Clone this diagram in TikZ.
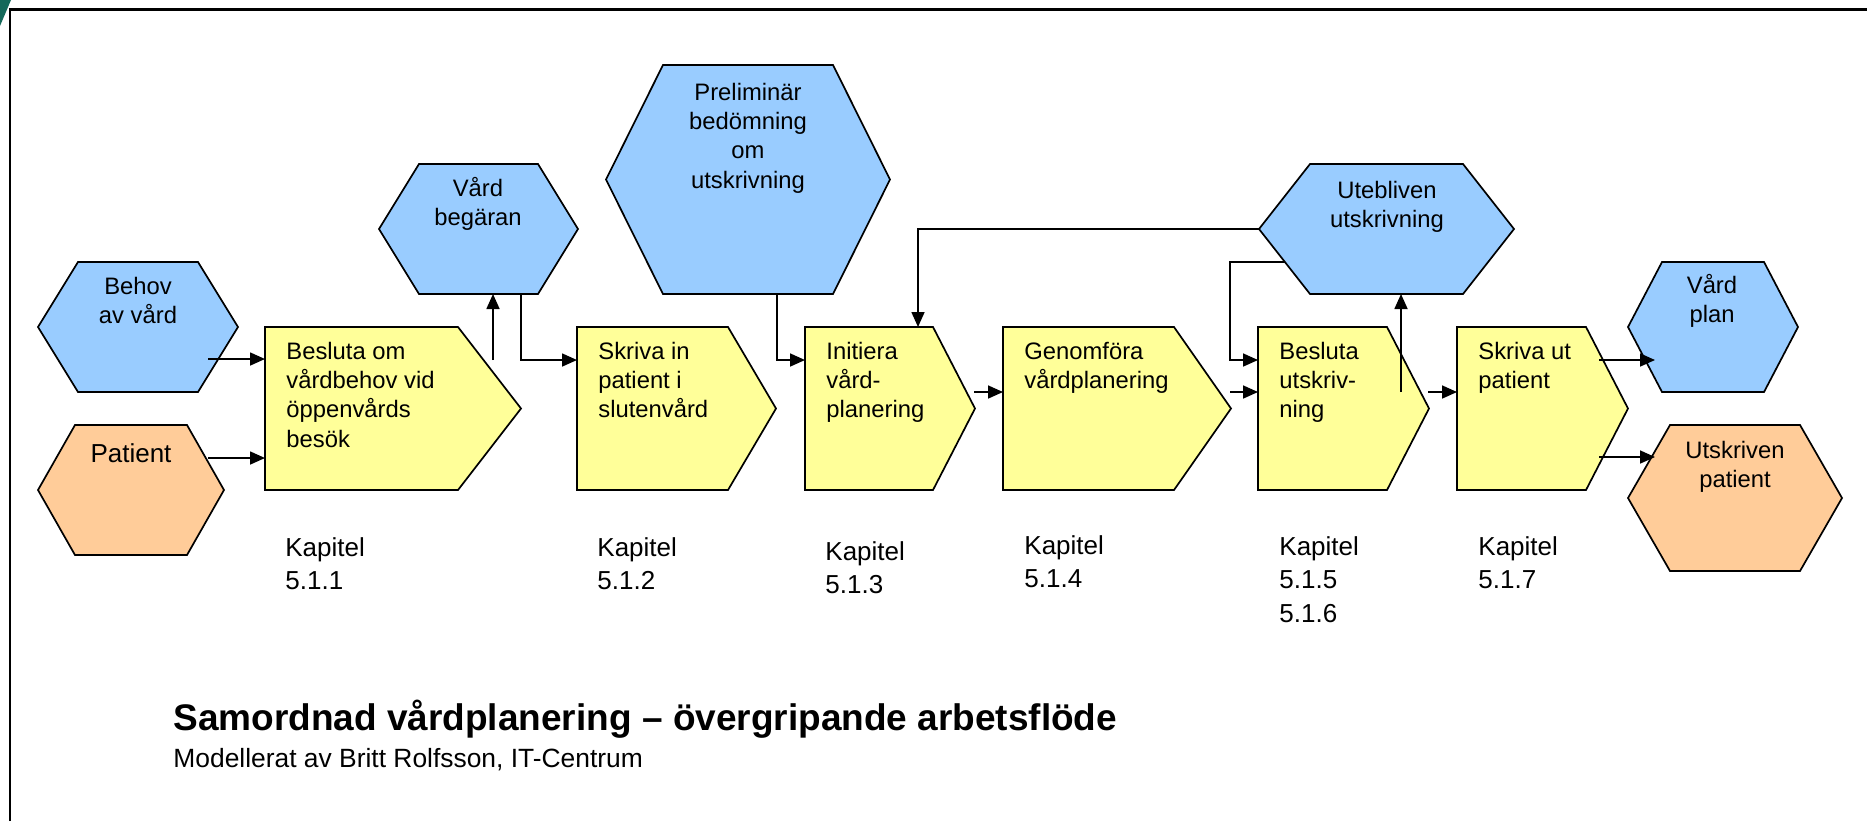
\documentclass[tikz,border=0pt]{standalone}
\usepackage{fontspec}
\setmainfont{Liberation Sans}
\usetikzlibrary{arrows.meta,calc}
\definecolor{hexblue}{HTML}{99CCFF}
\definecolor{procyellow}{HTML}{FFFF99}
\definecolor{hexorange}{HTML}{FFCC99}
\definecolor{cornergreen}{RGB}{20,105,90}
\newcommand\bfnt{\fontsize{11.9}{14.6}\selectfont}
\newcommand\kfnt{\fontsize{13}{16.7}\selectfont}
\newcommand\mystrut{\rule{0pt}{12pt}}
% hexagon: name, x1, y1, x2, y2, inset, colour
\newcommand\hexnd[7]{%
  \node[shapebox, minimum width={(#4-#2)*0.5pt}, minimum height={(#5-#3)*0.5pt}] (#1) at ({(#2+#4)/2},{(#3+#5)/2}) {};
  \draw[outline, fill=#7] (#1.west) -- ([xshift={#6*0.5pt}]#1.north west) -- ([xshift={-#6*0.5pt}]#1.north east) -- (#1.east) -- ([xshift={-#6*0.5pt}]#1.south east) -- ([xshift={#6*0.5pt}]#1.south west) -- cycle;}
% process box: name, x1, y1, x corner, x tip, y2
\newcommand\procnd[6]{%
  \node[shapebox, minimum width={(#5-#2)*0.5pt}, minimum height={(#6-#3)*0.5pt}] (#1) at ({(#2+#5)/2},{(#3+#6)/2}) {};
  \draw[outline, fill=procyellow] (#1.north west) -- ([xshift={(#4-#5)*0.5pt}]#1.north east) -- (#1.east) -- ([xshift={(#4-#5)*0.5pt}]#1.south east) -- (#1.south west) -- cycle;}
\begin{document}
\begin{tikzpicture}[x=0.5pt,y=-0.5pt,
  shapebox/.style={inner sep=0pt, outer sep=0pt, draw=none},
  outline/.style={draw=black, line width=0.85pt},
  arr/.style={draw=black, line width=0.85pt, -{Triangle[length=7.5pt,width=6.5pt]}},
  hextext/.style={inner sep=0pt, anchor=north, align=center, font=\bfnt},
  boxtext/.style={inner sep=0pt, anchor=north west, align=left, font=\bfnt},
  kaptext/.style={inner sep=0pt, anchor=north west, align=left, font=\kfnt}]
\useasboundingbox (0,0) rectangle (1867,821);
\fill[white] (0,0) rectangle (1867,821);
% corner and frame
\fill[cornergreen] (0,0) -- (11,0) -- (0,26) -- cycle;
\draw[line width=1.3pt] (10,821) -- (10,9.5) -- (1867,9.5);
% hexagons
\hexnd{behov}{38}{262}{238}{392}{40}{hexblue}
\hexnd{patient}{38}{425}{224}{555}{37}{hexorange}
\hexnd{begaran}{379}{164}{578}{294}{40}{hexblue}
\hexnd{prelim}{606}{65}{890}{294}{57}{hexblue}
\hexnd{uteb}{1259}{164}{1514}{294}{51}{hexblue}
\hexnd{vplan}{1628}{262}{1798}{392}{34}{hexblue}
\hexnd{utskr}{1628}{425}{1842}{571}{42}{hexorange}
% process boxes
\procnd{besluta}{265}{327}{458}{521}{490}
\procnd{skrivain}{577}{327}{728}{776}{490}
\procnd{initiera}{805}{327}{933}{975}{490}
\procnd{genom}{1003}{327}{1174}{1231}{490}
\procnd{beslutau}{1258}{327}{1387}{1429}{490}
\procnd{skrivaut}{1457}{327}{1586}{1628}{490}
% hexagon texts
\node[hextext] (t-behov) at (138,270) {\mystrut Behov\\av vård};
\node[inner sep=0pt, anchor=base, font=\fontsize{13}{16}\selectfont] (t-patient) at (131,462) {Patient};
\node[hextext] (t-begaran) at (478,172) {\mystrut Vård\\begäran};
\node[hextext] (t-prelim) at (748,76) {\mystrut Preliminär\\bedömning\\om\\utskrivning};
\node[hextext] (t-uteb) at (1387,174) {\mystrut Utebliven\\utskrivning};
\node[hextext] (t-vplan) at (1712,269) {\mystrut Vård\\plan};
\node[hextext] (t-utskr) at (1735,434) {\mystrut Utskriven\\patient};
% box texts
\node[boxtext] (t-besluta) at (286,335) {\mystrut Besluta om\\vårdbehov vid\\öppenvårds\\besök};
\node[boxtext] (t-skrivain) at (598,335) {\mystrut Skriva in\\patient i\\slutenvård};
\node[boxtext] (t-initiera) at (826,335) {\mystrut Initiera\\vård-\\planering};
\node[boxtext] (t-genom) at (1024,335) {\mystrut Genomföra\\vårdplanering};
\node[boxtext] (t-beslutau) at (1279,335) {\mystrut Besluta\\utskriv-\\ning};
\node[boxtext] (t-skrivaut) at (1478,335) {\mystrut Skriva ut\\patient};
% chapter references
\node[kaptext] (k1) at (285,532) {\mystrut Kapitel\\5.1.1};
\node[kaptext] (k2) at (597,532) {\mystrut Kapitel\\5.1.2};
\node[kaptext] (k3) at (825,536) {\mystrut Kapitel\\5.1.3};
\node[kaptext] (k4) at (1024,530) {\mystrut Kapitel\\5.1.4};
\node[kaptext] (k5) at (1279,531) {\mystrut Kapitel\\5.1.5\\5.1.6};
\node[kaptext] (k7) at (1478,531) {\mystrut Kapitel\\5.1.7};
% title
\node[inner sep=0pt, anchor=base west, font=\fontsize{18.5}{22}\selectfont\bfseries] (title) at (173,730) {Samordnad vårdplanering – övergripande arbetsflöde};
\node[inner sep=0pt, anchor=base west, font=\fontsize{13.2}{16}\selectfont] (subtitle) at (173,767) {Modellerat av Britt Rolfsson, IT-Centrum};
% connectors
\draw[arr] ($(besluta.north west)+(-57,32)$) -- ($(besluta.north west)+(0,32)$);
\draw[arr] ($(besluta.north west)+(-57,131)$) -- ($(besluta.north west)+(0,131)$);
\coordinate (u1) at ($(besluta.north west)+(228,33)$);
\draw[arr] (u1) -- (u1 |- begaran.south);
\draw[arr] ($(begaran.south west)+(142,0)$) |- ($(skrivain.north west)+(0,33)$);
\draw[arr] ($(prelim.south west)+(171,0)$) |- ($(initiera.north west)+(0,33)$);
\draw[arr] (uteb.west) -| ($(initiera.north west)+(113,0)$);
\draw[arr] ($(uteb.west)+(26,33)$) -- ++(-55,0) |- ($(beslutau.north west)+(0,33)$);
\draw[arr] ($(genom.north west)+(-29,65)$) -- ($(genom.north west)+(0,65)$);
\draw[arr] ($(beslutau.north west)+(-28,65)$) -- ($(beslutau.north west)+(0,65)$);
\coordinate (u2) at ($(beslutau.north west)+(143,65)$);
\draw[arr] (u2) -- (u2 |- uteb.south);
\draw[arr] ($(skrivaut.north west)+(-29,65)$) -- ($(skrivaut.north west)+(0,65)$);
\draw[arr] ($(skrivaut.north west)+(142,33)$) -- ($(vplan.west)+(27,33)$);
\draw[arr] ($(skrivaut.north west)+(142,130)$) -- ($(utskr.west)+(27,-41)$);
\end{tikzpicture}
\end{document}
